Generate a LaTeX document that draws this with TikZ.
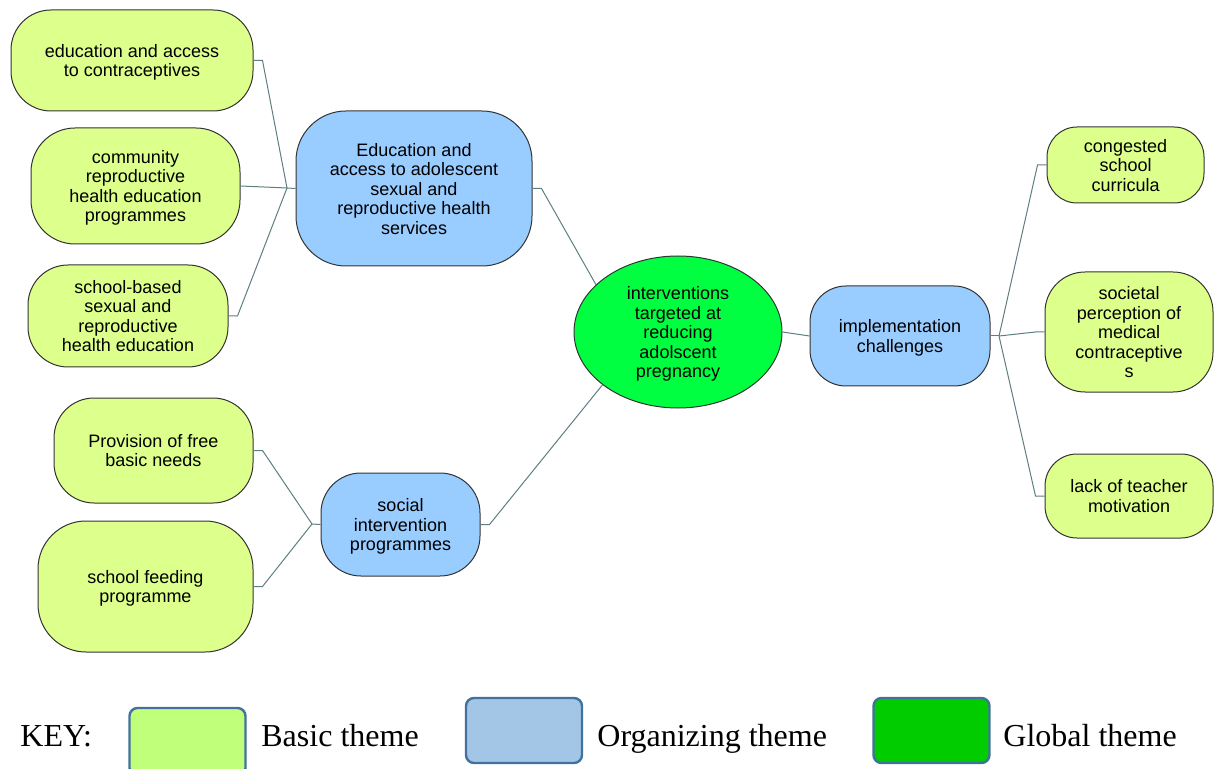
\documentclass[tikz,border=0pt]{standalone}
\usepackage{fontspec}
\setmainfont{Liberation Serif}
\setsansfont{Liberation Sans}
\usetikzlibrary{shapes.geometric}
\definecolor{basic}{HTML}{DDFF8C}
\definecolor{org}{HTML}{99CCFF}
\definecolor{glob}{HTML}{00FF40}
\definecolor{conn}{HTML}{5E7E80}
\definecolor{kbasic}{HTML}{C0FF7A}
\definecolor{korg}{HTML}{A4C6E6}
\definecolor{kglob}{HTML}{00CC00}
\definecolor{kedge}{HTML}{41719C}
\begin{document}
\begin{tikzpicture}[x=0.5pt,y=-0.5pt,
  box/.style={draw=black!80,line width=0.5pt,align=center,inner sep=0pt,text depth=-0.6pt,
    font=\sffamily\fontsize{9}{9.75}\selectfont},
  basicbox/.style={box,fill=basic},
  orgbox/.style={box,fill=org},
  globbox/.style={box,fill=glob,ellipse},
  link/.style={draw=conn,line width=0.5pt},
  keybox/.style={draw=kedge,line width=1.2pt,rounded corners=4pt,minimum width=58pt,minimum height=32.5pt,inner sep=0pt},
  keytext/.style={font=\fontsize{16}{18}\selectfont,anchor=base west,inner sep=0pt}]
\useasboundingbox (0,0) rectangle (1218,769);

% basic themes (left top)
\node[basicbox,minimum width=121pt,minimum height=50.5pt,rounded corners=20pt] (a1) at (132,60.5) {education and access\\to contraceptives};
\node[basicbox,minimum width=104.5pt,minimum height=58pt,rounded corners=22pt] (a2) at (135.5,186) {community\\reproductive\\health education\\programmes};
\node[basicbox,minimum width=100pt,minimum height=51pt,rounded corners=20pt] (a3) at (128,316) {school-based\\sexual and\\reproductive\\health education};

% organizing
\node[orgbox,minimum width=118pt,minimum height=77.5pt,rounded corners=25pt] (b1) at (414,188.5) {Education and\\access to adolescent\\sexual and\\reproductive health\\services};
\node[orgbox,minimum width=90pt,minimum height=50pt,rounded corners=18pt] (b2) at (900,336) {implementation\\challenges};
\node[orgbox,minimum width=79.5pt,minimum height=51.5pt,rounded corners=20pt] (b3) at (400.5,524.5) {social\\intervention\\programmes};

% global
\node[globbox,minimum width=104pt,minimum height=76pt] (c) at (678,332) {interventions\\targeted at\\reducing\\adolscent\\pregnancy};

% right basic
\node[basicbox,minimum width=78.5pt,minimum height=38pt,rounded corners=15pt] (d1) at (1125.5,165) {congested\\school\\curricula};
\node[basicbox,minimum width=84pt,minimum height=60pt,rounded corners=20pt] (d2) at (1129,332) {societal\\perception of\\medical\\contraceptive\\s};
\node[basicbox,minimum width=84pt,minimum height=42pt,rounded corners=16pt] (d3) at (1129,496) {lack of teacher\\motivation};

% lower left basic
\node[basicbox,minimum width=99.5pt,minimum height=52.5pt,rounded corners=20pt] (e1) at (153.5,450.5) {Provision of free\\basic needs};
\node[basicbox,minimum width=107.5pt,minimum height=65.5pt,rounded corners=24pt] (e2) at (145.5,586.5) {school feeding\\programme};

% connectors
\coordinate (j1) at (287,188);
\coordinate (j2) at (999,336);
\coordinate (j3) at (312,524);
\draw[link] (a1.east) -- ++(9,0) -- (j1) -- (b1.west);
\draw[link] (a2.east) -- (j1);
\draw[link] (a3.east) -- ++(9,0) -- (j1);
\draw[link] (b1.east) -- ++(9,0) -- (c.150);
\draw[link] (b3.east) -- ++(9,0) -- (c.215);
\draw[link] (c.east) -- (b2.west);
\draw[link] (b2.east) -- (j2);
\draw[link] (d1.west) -- ++(-9,0) -- (j2);
\draw[link] (d2.west) -- ++(-9,0) -- (j2);
\draw[link] (d3.west) -- ++(-9,0) -- (j2);
\draw[link] (e1.east) -- ++(9,0) -- (j3) -- (b3.west);
\draw[link] (e2.east) -- ++(9,0) -- (j3);

% key
\node[keytext] (key) at (20,746) {KEY:};
\node[keybox,fill=kbasic,minimum height=34pt] (k1) at (187.5,742) {};
\node[keytext] (k1t) at (261,746) {Basic theme};
\node[keybox,fill=korg] (k2) at (524,730.5) {};
\node[keytext] (k2t) at (597,746) {Organizing theme};
\node[keybox,fill=kglob] (k3) at (931.5,730.5) {};
\node[keytext] (k3t) at (1003,746) {Global theme};
\end{tikzpicture}
\end{document}
